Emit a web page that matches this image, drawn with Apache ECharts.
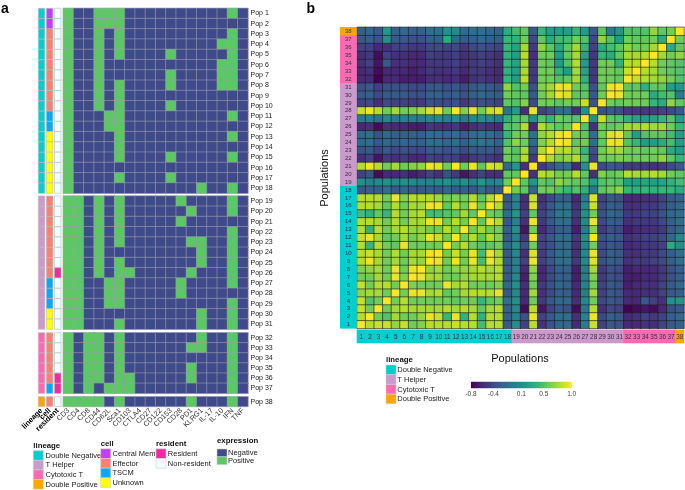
<!DOCTYPE html>
<html><head><meta charset="utf-8">
<script src="https://cdn.jsdelivr.net/npm/echarts@6/dist/echarts.min.js"></script>
<style>html,body{margin:0;padding:0;background:#fff}#c{width:685px;height:490px}</style>
</head><body><div id="c"></div>
<script>
// ---------------- DATA ----------------
const markers = ['CD3','CD4','CD8','CD44','CD62L','Sca1','CD103','CTLA4','CD27','CD122','CD153','CD28','PD1','KLRG1','IL-17','IL-10','IFN','TNF'];
const popLabels = ['Pop 1','Pop 2','Pop 3','Pop 4','Pop 5','Pop 6','Pop 7','Pop 8','Pop 9','Pop 10','Pop 11','Pop 12','Pop 13','Pop 14','Pop 15','Pop 16','Pop 17','Pop 18','Pop 19','Pop 20','Pop 21','Pop 22','Pop 23','Pop 24','Pop 25','Pop 26','Pop 27','Pop 28','Pop 29','Pop 30','Pop 31','Pop 32','Pop 33','Pop 34','Pop 35','Pop 36','Pop 37','Pop 38'];
const numLabels = ['1','2','3','4','5','6','7','8','9','10','11','12','13','14','15','16','17','18','19','20','21','22','23','24','25','26','27','28','29','30','31','32','33','34','35','36','37','38'];
// expression per population (1 = positive), one character per marker
const expression = [
 '100111000000000010','100111000000000000','100101000000000010','100101000000000110',
 '100101000010000010','100100000000000110','100100000010000110','100101000010000110',
 '100101000000000000','100101000010000000','100011000000000010','100011000000000000',
 '100001000000000010','100001000000000000','100001000010000010','100000000000000000',
 '100001000010000000','100000000000010010',
 '110101000001000010','110101000000100010','110101000001000000','110101000000000010',
 '110101000000110010','110100000000010010','110101000000010010','110101100000100010',
 '110011000001000010','110011000001000000','110011000000000010','110000000000010010',
 '110001000000010010',
 '101101000000010010','101101000000110010','101101000000000010','101101000000100010',
 '101101100000100010','101011100000000010',
 '111101000000100010'];
// lineage: N=Double Negative, H=T Helper, C=Cytotoxic T, P=Double Positive
const lineage = ['N','N','N','N','N','N','N','N','N','N','N','N','N','N','N','N','N','N','H','H','H','H','H','H','H','H','H','H','H','H','H','C','C','C','C','C','C','P'];
// cell: M=Central Mem, E=Effector, T=TSCM, U=Unknown
const cellType = ['M','M','E','E','E','E','E','E','E','E','T','T','U','U','U','U','U','U','E','E','E','E','E','E','E','E','T','T','T','U','U','E','E','E','E','E','T','E'];
// resident: R=Resident, n=Non-resident
const resident = ['n','n','n','n','n','n','n','n','n','n','n','n','n','n','n','n','n','n','n','n','n','n','n','n','n','R','n','n','n','n','n','n','n','n','n','R','R','n'];
// correlation matrix, lower triangle: row i holds columns 1..i
const corrLower = [
 [1],
 [0.8,1],
 [0.85,0.6,1],
 [0.85,0.5,0.6,1],
 [0.7,0.75,0.75,0.6,1],
 [0.85,0.6,0.8,0.8,0.6,1],
 [0.6,0.6,0.75,0.6,0.95,0.65,1],
 [0.65,0.7,0.75,0.6,0.95,0.6,0.95,1],
 [0.8,0.95,0.75,0.6,0.75,0.6,0.75,0.7,1],
 [0.8,0.85,0.75,0.6,0.8,0.6,0.75,0.75,0.95,1],
 [0.8,0.4,0.8,0.6,0.55,0.95,0.6,0.6,0.6,0.6,1],
 [0.85,0.95,0.75,0.55,0.6,0.75,0.6,0.7,0.95,0.85,0.6,1],
 [0.8,0.35,0.8,0.6,0.75,0.8,0.7,0.7,0.6,0.6,0.8,0.6,1],
 [0.8,0.8,0.75,0.6,0.8,0.6,0.75,0.75,0.95,0.95,0.6,0.8,0.6,1],
 [0.45,0.35,0.55,0.4,0.8,0.6,0.75,0.8,0.45,0.45,0.5,0.55,0.75,0.55,1],
 [0.8,0.8,0.75,0.55,0.8,0.6,0.75,0.75,0.95,0.95,0.55,0.8,0.6,0.95,0.6,1],
 [0.8,0.8,0.8,0.6,0.95,0.65,0.8,0.8,0.8,0.75,0.6,0.65,0.6,0.8,0.55,0.8,1],
 [-0.3,-0.25,-0.25,-0.15,-0.3,-0.2,-0.3,-0.3,-0.25,-0.3,-0.2,-0.3,-0.25,-0.3,-0.15,-0.3,-0.3,1],
 [0.1,0.0,0.05,0.1,0.05,0.1,0.05,0.0,0.0,0.05,0.1,0.0,0.1,0.0,0.15,0.0,0.05,0.6,1],
 [-0.45,-0.35,-0.75,-0.6,-0.6,-0.55,-0.65,-0.6,-0.45,-0.55,-0.35,-0.5,-0.7,-0.55,-0.45,-0.55,-0.55,0.55,0.55,1],
 [0.8,0.95,0.8,0.6,0.75,0.6,0.65,0.7,0.95,0.9,0.6,0.98,0.6,0.95,0.55,0.9,0.85,-0.2,0.15,-0.55,1],
 [-0.55,-0.45,-0.7,-0.5,-0.55,-0.5,-0.6,-0.6,-0.45,-0.5,-0.45,-0.45,-0.6,-0.5,-0.45,-0.5,-0.55,0.6,0.55,0.8,-0.5,1],
 [-0.35,-0.3,-0.45,-0.3,-0.4,-0.35,-0.4,-0.4,-0.3,-0.3,-0.35,-0.3,-0.4,-0.3,-0.3,-0.3,-0.4,0.6,0.5,0.75,-0.35,0.8,1],
 [-0.2,-0.15,-0.3,-0.2,-0.25,-0.2,-0.25,-0.25,-0.15,-0.15,-0.2,-0.15,-0.25,-0.15,-0.1,-0.15,-0.25,0.5,0.7,0.6,-0.2,0.65,0.8,1],
 [-0.2,-0.15,-0.35,-0.2,-0.25,-0.25,-0.25,-0.25,-0.15,-0.15,-0.2,-0.15,-0.25,-0.15,-0.1,-0.15,-0.25,0.4,0.6,0.6,-0.15,0.7,0.8,0.95,1],
 [-0.6,-0.55,-0.75,-0.55,-0.6,-0.6,-0.65,-0.65,-0.5,-0.55,-0.55,-0.5,-0.65,-0.55,-0.5,-0.55,-0.6,0.5,0.55,0.8,-0.6,0.8,0.65,0.55,0.6,1],
 [-0.05,0.0,-0.1,0.05,-0.05,0.0,-0.05,-0.05,0.05,0.05,0.0,0.1,-0.05,0.05,0.1,0.05,-0.05,0.35,0.5,0.55,0.1,0.5,0.4,0.6,0.55,0.5,1],
 [0.85,0.95,0.8,0.6,0.75,0.6,0.65,0.75,0.9,0.95,0.6,0.98,0.65,0.95,0.6,0.85,0.9,-0.1,0.2,-0.55,0.95,-0.45,-0.35,-0.15,-0.15,-0.55,0.1,1],
 [-0.45,-0.4,-0.55,-0.4,-0.45,-0.45,-0.5,-0.5,-0.35,-0.4,-0.4,-0.35,-0.5,-0.4,-0.35,-0.4,-0.45,0.55,0.5,0.65,-0.4,0.6,0.6,0.55,0.6,0.6,0.85,-0.35,1],
 [-0.3,-0.25,-0.4,-0.3,-0.3,-0.3,-0.35,-0.35,-0.25,-0.25,-0.3,-0.25,-0.35,-0.25,-0.2,-0.25,-0.3,0.6,0.55,0.55,-0.3,0.6,0.75,0.95,0.9,0.55,0.55,-0.3,0.6,1],
 [-0.35,-0.3,-0.45,-0.35,-0.35,-0.35,-0.4,-0.4,-0.3,-0.3,-0.35,-0.3,-0.4,-0.3,-0.25,-0.3,-0.35,0.7,0.5,0.6,-0.35,0.65,0.75,0.95,0.95,0.6,0.5,-0.35,0.55,0.95,1],
 [-0.6,-0.6,-0.8,-0.6,-0.6,-0.65,-0.65,-0.65,-0.55,-0.55,-0.6,-0.55,-0.65,-0.55,-0.5,-0.55,-0.6,0.4,0.2,0.8,-0.5,0.6,0.6,0.5,0.55,0.75,0.35,-0.5,0.6,0.6,0.55,1],
 [-0.6,-0.55,-0.75,-0.6,-0.6,-0.6,-0.65,-0.6,-0.5,-0.55,-0.55,-0.5,-0.6,-0.5,-0.5,-0.55,-0.6,0.35,0.2,0.75,-0.5,0.6,0.6,0.4,0.2,0.75,0.25,-0.5,0.6,0.6,0.55,0.85,1],
 [-0.55,-0.45,-0.7,-0.3,-0.55,-0.55,-0.6,-0.6,-0.5,-0.5,-0.5,-0.45,-0.55,-0.5,-0.45,-0.5,-0.55,0.4,0.25,0.75,-0.5,0.6,0.55,0.2,0.5,0.8,0.2,-0.5,0.6,0.6,0.35,0.8,0.8,1],
 [-0.55,-0.5,-0.75,-0.45,-0.55,-0.55,-0.6,-0.6,-0.45,-0.5,-0.5,-0.45,-0.55,-0.5,-0.45,-0.5,-0.55,0.35,0.2,0.8,-0.55,0.6,0.6,0.2,0.55,0.75,0.25,-0.5,0.4,0.3,0.55,0.75,0.75,0.8,1],
 [-0.45,-0.45,-0.6,-0.55,-0.45,-0.45,-0.5,-0.5,-0.4,-0.4,-0.45,-0.4,-0.5,-0.4,-0.35,-0.4,-0.45,0.4,0.25,0.75,-0.5,0.7,0.55,0.3,0.55,0.75,0.4,-0.45,0.3,0.45,0.55,0.7,0.6,0.6,0.75,1],
 [-0.3,-0.25,-0.35,0.1,-0.3,-0.3,-0.35,-0.35,-0.25,-0.25,0.3,-0.2,-0.3,-0.25,-0.2,-0.25,-0.3,0.4,0.35,0.6,-0.4,0.55,0.3,0.45,0.45,0.6,0.5,-0.4,0.7,0.5,0.2,0.6,0.55,0.55,0.6,0.3,1],
 [-0.25,-0.2,-0.3,0.15,-0.25,-0.2,-0.25,-0.25,-0.15,-0.15,0.1,0.05,-0.2,-0.15,-0.15,-0.2,-0.25,0.3,0.45,0.55,-0.3,0.4,0.2,0.2,0.2,0.4,0.2,-0.3,0.55,-0.05,0.15,0.5,0.5,0.5,0.7,0.55,0.6,1]
];
const colorbarTicks = [-0.8,-0.4,0.1,0.5,1.0];

// ---------------- STYLE ----------------
const FONT = 'Liberation Sans, Arial, Helvetica, sans-serif';
const lineageColor = {N:'#00CED1', H:'#CC99CC', C:'#FF69B4', P:'#FFA500'};
const cellColor = {M:'#BF3EFF', E:'#FA8072', T:'#00AAFF', U:'#FFFF00'};
const residentColor = {R:'#EE2C9F', n:'#F0FFFF'};
const NEG = '#3E4A89', POS = '#5CC863';
const viridis = ['#440154','#482878','#3e4989','#31688e','#26828e','#1f9e89','#35b779','#6ece58','#b5de2b','#fde725'];

const grids = [], xAxes = [], yAxes = [], series = [];
const markerSeriesIdx = [];

// ---------------- PANEL A ----------------
const groups = [
  {from:0, to:18, top:8.3, h:185},
  {from:18, to:31, top:196, h:133.3},
  {from:31, to:37, top:332.7, h:60.7},
  {from:37, to:38, top:396.7, h:9.8}
];
const annCats = ['lineage','cell','resident'];
const annPalette = [];
function palIdx(c){ let i = annPalette.indexOf(c); if(i<0){annPalette.push(c); i=annPalette.length-1;} return i; }

groups.forEach((g, gi) => {
  const last = gi === groups.length-1;
  const rows = popLabels.slice(g.from, g.to);
  // annotation grid
  const ga = grids.length;
  grids.push({left:37.5, top:g.top, width:24.3, height:g.h});
  xAxes.push({gridIndex:ga, type:'category', data:annCats, axisLine:{show:false}, axisTick:{show:false},
    axisLabel:{show:last, rotate:45, interval:0, fontSize:7.5, fontWeight:'bold', color:'#000', fontFamily:FONT, margin:3}});
  yAxes.push({gridIndex:ga, type:'category', data:rows, inverse:true, show:false});
  const annData = [];
  for (let r = g.from; r < g.to; r++) {
    annData.push([0, r-g.from, palIdx(lineageColor[lineage[r]])]);
    annData.push([1, r-g.from, palIdx(cellColor[cellType[r]])]);
    annData.push([2, r-g.from, palIdx(residentColor[resident[r]])]);
  }
  series.push({type:'custom', xAxisIndex:xAxes.length-1, yAxisIndex:yAxes.length-1, data:annData, silent:true,
    renderItem:(params, api) => {
      const c = api.coord([api.value(0), api.value(1)]);
      const s = api.size([1,1]);
      const w = s[0]*0.8, h = s[1];
      return {type:'rect', shape:{x:c[0]-w/2, y:c[1]-h/2, width:w, height:h},
        style:{fill:annPalette[api.value(2)], stroke:'#b8b8b8', lineWidth:0.6}};
    }});
  // marker grid
  const gm = grids.length;
  grids.push({left:63.3, top:g.top, width:184.7, height:g.h});
  xAxes.push({gridIndex:gm, type:'category', data:markers, axisLine:{show:false}, axisTick:{show:false},
    axisLabel:{show:last, rotate:45, interval:0, fontSize:7.3, color:'#333', fontFamily:FONT, margin:3}});
  yAxes.push({gridIndex:gm, type:'category', data:rows, inverse:true, position:'right',
    axisLine:{show:false}, axisTick:{show:false}, axisLabel:{interval:0, fontSize:7, color:'#222', fontFamily:FONT, margin:2.5}});
  const mData = [];
  for (let r = g.from; r < g.to; r++) {
    for (let m = 0; m < markers.length; m++) mData.push([m, r-g.from, +expression[r][m]]);
  }
  markerSeriesIdx.push(series.length);
  series.push({type:'heatmap', xAxisIndex:xAxes.length-1, yAxisIndex:yAxes.length-1, data:mData, silent:true,
    itemStyle:{borderColor:'#9a9aac', borderWidth:0.6}});
});

// ---------------- PANEL B ----------------
const B = {left:357, top:27.3, width:327, height:301};
const gMain = grids.length;
grids.push({left:B.left, top:B.top, width:B.width, height:B.height});
xAxes.push({gridIndex:gMain, type:'category', data:numLabels, show:false});
yAxes.push({gridIndex:gMain, type:'category', data:numLabels, show:false});
const corrData = [];
for (let i = 0; i < 38; i++) for (let j = 0; j < 38; j++) {
  const v = i >= j ? corrLower[i][j] : corrLower[j][i];
  corrData.push([j, i, v]);
}
const corrSeriesIdx = series.length;
series.push({type:'heatmap', xAxisIndex:xAxes.length-1, yAxisIndex:yAxes.length-1, data:corrData, silent:true,
  itemStyle:{borderColor:'#1c1c1c', borderWidth:0.6}});

// row strip
const gRow = grids.length;
grids.push({left:340, top:B.top, width:16.7, height:B.height});
xAxes.push({gridIndex:gRow, type:'category', data:['l'], show:false});
yAxes.push({gridIndex:gRow, type:'category', data:numLabels, show:false});
series.push({type:'custom', xAxisIndex:xAxes.length-1, yAxisIndex:yAxes.length-1, silent:true,
  data:numLabels.map((n,i)=>[0,i]),
  renderItem:(params, api) => {
    const i = api.value(1);
    const c = api.coord([0, i]); const s = api.size([1,1]);
    return {type:'group', children:[
      {type:'rect', shape:{x:c[0]-s[0]/2, y:c[1]-s[1]/2-0.3, width:s[0], height:s[1]+0.6}, style:{fill:lineageColor[lineage[i]]}},
      {type:'text', x:c[0], y:c[1]+0.3, style:{text:numLabels[i], fontSize:6, fontFamily:FONT, fill:'#333', align:'center', verticalAlign:'middle'}}
    ]};
  }});
// column strip
const gCol = grids.length;
grids.push({left:B.left, top:329.5, width:B.width, height:13.8});
xAxes.push({gridIndex:gCol, type:'category', data:numLabels, show:false});
yAxes.push({gridIndex:gCol, type:'category', data:['l'], show:false});
series.push({type:'custom', xAxisIndex:xAxes.length-1, yAxisIndex:yAxes.length-1, silent:true,
  data:numLabels.map((n,i)=>[i,0]),
  renderItem:(params, api) => {
    const i = api.value(0);
    const c = api.coord([i, 0]); const s = api.size([1,1]);
    return {type:'group', children:[
      {type:'rect', shape:{x:c[0]-s[0]/2-0.3, y:c[1]-s[1]/2, width:s[0]+0.6, height:s[1]}, style:{fill:lineageColor[lineage[i]]}},
      {type:'text', x:c[0], y:c[1]+0.5, style:{text:numLabels[i], fontSize:6.4, fontFamily:FONT, fill:'#333', align:'center', verticalAlign:'middle'}}
    ]};
  }});
// colour bar
const gBar = grids.length;
grids.push({left:471, top:381.8, width:100.7, height:6.5});
xAxes.push({gridIndex:gBar, type:'value', min:-0.8, max:1.0, splitLine:{show:false}, axisLine:{show:false},
  axisTick:{show:true, inside:true, length:1.5, lineStyle:{color:'#fff', width:0.8}, customValues:colorbarTicks},
  axisLabel:{customValues:colorbarTicks, fontSize:6.5, color:'#444', fontFamily:FONT, margin:2.5, formatter:v=>v.toFixed(1)}});
yAxes.push({gridIndex:gBar, type:'value', min:0, max:1, show:false});
series.push({type:'custom', xAxisIndex:xAxes.length-1, yAxisIndex:yAxes.length-1, silent:true, z:1,
  data:[[colorbarTicks[0], colorbarTicks[colorbarTicks.length-1]]],
  renderItem:(params, api) => {
    const p0 = api.coord([api.value(0), 0]); const p1 = api.coord([api.value(1), 1]);
    const stops = viridis.map((c,k)=>({offset:k/(viridis.length-1), color:c}));
    return {type:'rect', shape:{x:p0[0], y:p1[1], width:p1[0]-p0[0], height:p0[1]-p1[1]},
      style:{fill:new echarts.graphic.LinearGradient(0,0,1,0,stops)}};
  }});

// ---------------- LEGENDS / TEXT ----------------
const graphics = [];
function txt(x, y, t, o){ graphics.push({type:'text', x, y, style:Object.assign({text:t, fontFamily:FONT, fontSize:7.5, fill:'#222', verticalAlign:'middle'}, o||{})}); }
function legend(x, titleY, title, items, keyTop, keyH, textDx){
  txt(x, titleY, title, {fontWeight:'bold', fill:'#111', fontSize:7.8});
  items.forEach((it, k) => {
    graphics.push({type:'rect', shape:{x:x, y:keyTop+k*keyH, width:10, height:keyH}, style:{fill:it[1], stroke:'#cfcfcf', lineWidth:0.6}});
    txt(x+textDx, keyTop+k*keyH+keyH/2+0.3, it[0]);
  });
}
legend(33.3, 445.5, 'lineage', [['Double Negative',lineageColor.N],['T Helper',lineageColor.H],['Cytotoxic T',lineageColor.C],['Double Positive',lineageColor.P]], 450.7, 9.6, 12.3);
legend(100.7, 443.8, 'cell', [['Central Mem',cellColor.M],['Effector',cellColor.E],['TSCM',cellColor.T],['Unknown',cellColor.U]], 448.8, 9.7, 11.8);
legend(156, 444, 'resident', [['Resident',residentColor.R],['Non-resident',residentColor.n]], 448.8, 9.7, 11.8);
legend(217, 441, 'expression', [['Negative',NEG],['Positive',POS]], 449, 7.8, 11);
legend(386, 360.3, 'lineage', [['Double Negative',lineageColor.N],['T Helper',lineageColor.H],['Cytotoxic T',lineageColor.C],['Double Positive',lineageColor.P]], 365, 9.7, 11.3);
txt(1, 9, 'a', {fontWeight:'bold', fontSize:14, fill:'#000'});
txt(306.5, 9, 'b', {fontWeight:'bold', fontSize:14, fill:'#000'});
txt(520, 359, 'Populations', {fontSize:11, align:'center', fill:'#111'});
graphics.push({type:'text', x:325, y:178, rotation:Math.PI/2, style:{text:'Populations', fontFamily:FONT, fontSize:11, fill:'#111', align:'center', verticalAlign:'middle'}});

const option = {
  animation:false,
  backgroundColor:'#fff',
  grid:grids, xAxis:xAxes, yAxis:yAxes,
  visualMap:[
    {type:'piecewise', show:false, dimension:2, seriesIndex:markerSeriesIdx,
     pieces:[{value:0, color:NEG},{value:1, color:POS}]},
    {type:'continuous', show:false, dimension:2, seriesIndex:[corrSeriesIdx], min:-0.8, max:1.0,
     inRange:{color:viridis}}
  ],
  series:series,
  graphic:graphics
};
const chart = echarts.init(document.getElementById('c'));
chart.setOption(option);
</script></body></html>
